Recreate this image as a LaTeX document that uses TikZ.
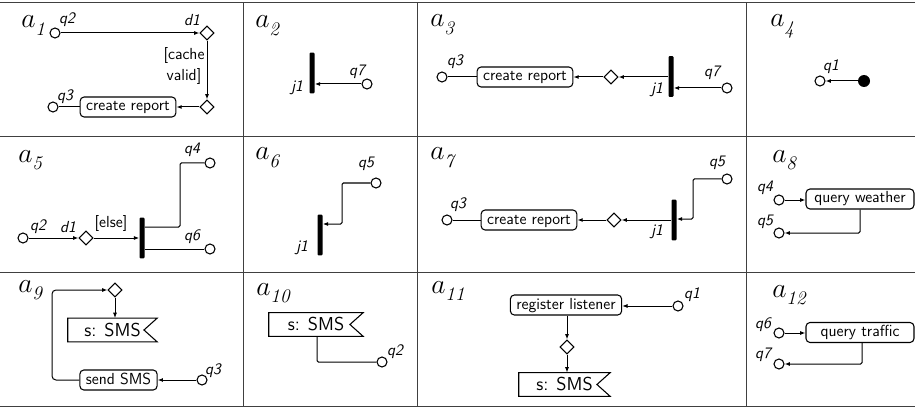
\documentclass[tikz,border=0pt]{standalone}
\usepackage{fontspec}
\usetikzlibrary{shapes.geometric,arrows.meta}
\newcommand{\cellname}[1]{$a_{\lower2.5pt\hbox{$\scriptstyle\mathit{#1}$}}$}
\begin{document}
\begin{tikzpicture}[x=0.75pt,y=-0.75pt,
  every node/.style={font=\sffamily\fontsize{12}{16}\selectfont},
  qc/.style={circle,draw,line width=0.8pt,minimum size=7.5pt,inner sep=0pt,fill=white},
  fc/.style={circle,fill=black,minimum size=9pt,inner sep=0pt},
  dia/.style={diamond,draw,line width=0.8pt,minimum width=10.5pt,minimum height=10.5pt,inner sep=0pt},
  jbar/.style={rectangle,fill=black,minimum width=3.75pt,minimum height=30.5pt,inner sep=0pt,rounded corners=0.8pt},
  act/.style={rectangle,draw,rounded corners=3pt,line width=0.8pt,inner xsep=4.5pt,inner ysep=0pt,minimum height=15pt,text height=8.5pt,text depth=2.5pt},
  sig/.style={rectangle,inner sep=0pt,minimum height=17.5pt,font=\sffamily\fontsize{14}{16}\selectfont},
  sigline/.style={line width=0.8pt},
  ql/.style={font=\sffamily\itshape\fontsize{12}{14}\selectfont,inner sep=0pt},
  cl/.style={anchor=base west,inner sep=0pt,font=\huge},
  tl/.style={line width=0.75pt,draw=black!75},
  con/.style={line width=0.75pt},
  arr/.style={con,-{Latex[length=4pt,width=3pt]}},
]
\useasboundingbox (0,0) rectangle (915,410);
% table rules
\draw[tl] (0,3) -- (915,3);
\draw[tl] (0,137) -- (915,137);
\draw[tl] (0,272) -- (915,272);
\draw[tl] (0,406) -- (915,406);
\draw[tl] (243,3) -- (243,406);
\draw[tl] (417,3) -- (417,406);
\draw[tl] (746,3) -- (746,406);

% a1
\node[cl] (a1) at (21,28) {\cellname{1}};
\node[qc] (a1q2) at (55,33) {};
\node[ql] (a1q2l) at (67,20) {q2};
\node[dia] (a1d1) at (207,33) {};
\node[ql] (a1d1l) at (192,20) {d1};
\node[dia] (a1d2) at (207,107) {};
\node[act] (a1cr) at (128,107) {create report};
\node[qc] (a1q3) at (53,107) {};
\node[ql] (a1q3l) at (65,97) {q3};
\node[align=center,inner sep=0pt] (a1g) at (184,66) {[cache\\valid]};
\draw[arr] (a1q2) -- (a1d1);
\draw[arr] (a1d1) -- (a1d2);
\draw[arr] (a1d2) -- (a1cr);
\draw[con] (a1q3) -- (a1cr);

% a2
\node[cl] (a2) at (255,28) {\cellname{2}};
\node[jbar] (a2j) at (312,73) {};
\node[ql] (a2jl) at (297,88) {j1};
\node[qc] (a2q7) at (367,84) {};
\node[ql] (a2q7l) at (357,72) {q7};
\draw[arr] (a2q7) -- (a2q7 -| a2j.east);

% a3
\node[cl] (a3) at (430,27) {\cellname{3}};
\node[qc] (a3q3) at (442,77) {};
\node[ql] (a3q3l) at (455,62) {q3};
\node[act] (a3cr) at (525,77) {create report};
\node[dia] (a3d) at (611,77) {};
\node[jbar] (a3j) at (671,76.5) {};
\node[ql] (a3jl) at (657,90) {j1};
\node[qc] (a3q7) at (727,88) {};
\node[ql] (a3q7l) at (712,73) {q7};
\draw[con] (a3q3) -- (a3cr);
\draw[arr] (a3d) -- (a3cr);
\draw[arr] (a3j.west |- a3d) -- (a3d);
\draw[arr] (a3q7) -- (a3q7 -| a3j.east);

% a4
\node[cl] (a4) at (770,27) {\cellname{4}};
\node[qc] (a4q1) at (820,81) {};
\node[ql] (a4q1l) at (831,67) {q1};
\node[fc] (a4i) at (864,81) {};
\draw[arr] (a4i) -- (a4q1);

% a5
\node[cl] (a5) at (18,162) {\cellname{5}};
\node[qc] (a5q2) at (23,238) {};
\node[ql] (a5q2l) at (38,227) {q2};
\node[dia] (a5d1) at (86,238) {};
\node[ql] (a5d1l) at (68,227) {d1};
\node[jbar] (a5j) at (142,238) {};
\node[inner sep=0pt] (a5else) at (111,224) {[else]};
\node[qc] (a5q4) at (210,163) {};
\node[ql] (a5q4l) at (192,150) {q4};
\node[qc] (a5q6) at (210,249) {};
\node[ql] (a5q6l) at (192,237) {q6};
\coordinate (a5k1) at (180,227);
\draw[arr] (a5q2) -- (a5d1);
\draw[arr] (a5d1) -- (a5d1 -| a5j.west);
\draw[con,rounded corners=1pt] (a5j.east |- a5k1) -- (a5k1) |- (a5q4);
\draw[con] (a5j.east |- a5q6) -- (a5q6);

% a6
\node[cl] (a6) at (255,160) {\cellname{6}};
\node[qc] (a6q5) at (376,183) {};
\node[ql] (a6q5l) at (366,164) {q5};
\node[jbar] (a6j) at (320,235) {};
\node[ql] (a6jl) at (302,248) {j1};
\coordinate (a6k) at (342,224);
\draw[arr,rounded corners=1pt] (a6q5) -| (a6k) -- (a6k -| a6j.east);

% a7
\node[cl] (a7) at (430,160) {\cellname{7}};
\node[qc] (a7q3) at (447,220) {};
\node[ql] (a7q3l) at (458,205) {q3};
\node[act] (a7cr) at (529,220) {create report};
\node[dia] (a7d) at (614,220) {};
\node[jbar] (a7j) at (674,220) {};
\node[ql] (a7jl) at (657,232) {j1};
\node[qc] (a7q5) at (727,179) {};
\node[ql] (a7q5l) at (717,163) {q5};
\coordinate (a7k) at (693,219);
\draw[con] (a7q3) -- (a7cr);
\draw[arr] (a7d) -- (a7cr);
\draw[arr] (a7j.west |- a7d) -- (a7d);
\draw[arr,rounded corners=1pt] (a7q5) -| (a7k) -- (a7k -| a7j.east);

% a8
\node[cl] (a8) at (772,162) {\cellname{8}};
\node[qc] (a8q4) at (779,200) {};
\node[ql] (a8q4l) at (765,188) {q4};
\node[act,minimum width=81pt] (a8qw) at (860,199) {query weather};
\node[qc] (a8q5) at (779,233) {};
\node[ql] (a8q5l) at (765,222) {q5};
\draw[arr] (a8q4) -- (a8q4 -| a8qw.west);
\draw[arr,rounded corners=1pt] (a8qw.south) -- (a8qw.south |- a8q5) -- (a8q5);

% a9
\node[cl] (a9) at (18,292) {\cellname{9}};
\node[dia] (a9d) at (115,290) {};
\node[sig,minimum width=66.75pt] (a9s) at (112.5,330) {s: SMS};
\draw[sigline] (a9s.north west) -- (a9s.north east) -- ([xshift=-10pt]a9s.east) -- (a9s.south east) -- (a9s.south west) -- cycle;
\node[act] (a9ss) at (118.5,380) {send SMS};
\node[qc] (a9q3) at (202,380) {};
\node[ql] (a9q3l) at (213,371) {q3};
\coordinate (a9k) at (52,290);
\draw[arr] (a9d) -- (a9d |- a9s.north);
\draw[arr] (a9q3) -- (a9ss);
\draw[arr,rounded corners=3pt] (a9ss.west) -| (a9k) -- (a9d);

% a10
\node[cl] (a10) at (256,295) {\cellname{10}};
\node[sig,minimum width=70.5pt] (a10s) at (316,324.5) {s: SMS};
\draw[sigline] (a10s.north west) -- (a10s.north east) -- ([xshift=-10pt]a10s.east) -- (a10s.south east) -- (a10s.south west) -- cycle;
\node[qc] (a10q2) at (382,362) {};
\node[ql] (a10q2l) at (395,352) {q2};
\coordinate (a10k) at (317,362);
\draw[con,rounded corners=1pt] (a10k |- a10s.south) -- (a10k) -- (a10q2);

% a11
\node[cl] (a11) at (431,293) {\cellname{11}};
\node[act] (a11rl) at (566,305) {register listener};
\node[qc] (a11q1) at (678,306) {};
\node[ql] (a11q1l) at (692,295) {q1};
\node[dia] (a11d) at (567,347) {};
\node[sig,minimum width=68.25pt] (a11s) at (564.5,384.5) {s: SMS};
\draw[sigline] (a11s.north west) -- (a11s.north east) -- ([xshift=-10pt]a11s.east) -- (a11s.south east) -- (a11s.south west) -- cycle;
\draw[arr] (a11q1) -- (a11q1 -| a11rl.east);
\draw[arr] (a11rl.south -| a11d) -- (a11d);
\draw[arr] (a11d) -- (a11d |- a11s.north);

% a12
\node[cl] (a12) at (772,297) {\cellname{12}};
\node[qc] (a12q6) at (779,333) {};
\node[ql] (a12q6l) at (763,325) {q6};
\node[act,minimum width=81pt] (a12qt) at (860,332.5) {query traffic};
\node[qc] (a12q7) at (779,364) {};
\node[ql] (a12q7l) at (763,355) {q7};
\coordinate (a12k) at (862,364);
\draw[arr] (a12q6) -- (a12q6 -| a12qt.west);
\draw[arr,rounded corners=1pt] (a12k |- a12qt.south) -- (a12k) -- (a12q7);
\end{tikzpicture}
\end{document}
